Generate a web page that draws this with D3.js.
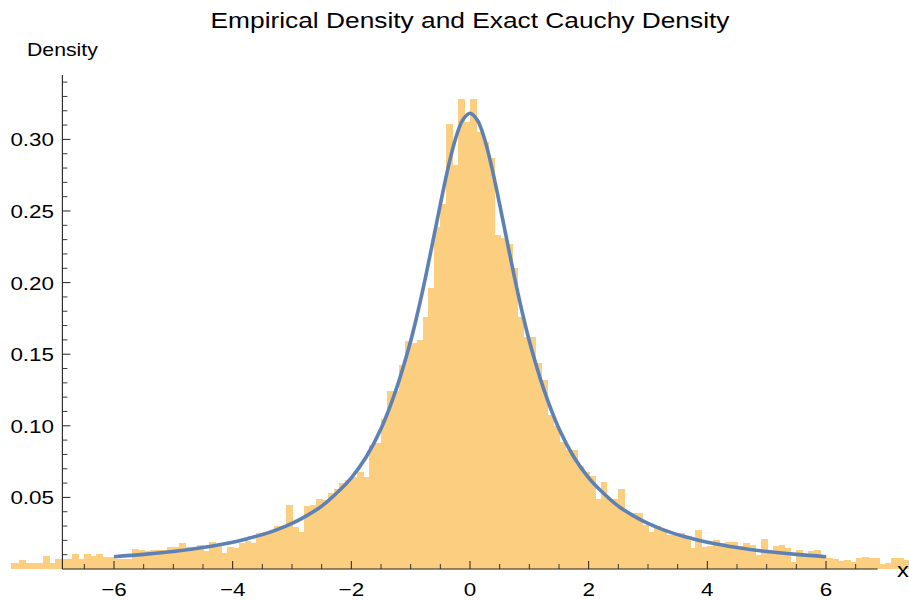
<!DOCTYPE html>
<html><head><meta charset="utf-8">
<script src="https://cdn.jsdelivr.net/npm/d3@7"></script>
<style>body{margin:0;background:#fff} svg{display:block}</style>
</head><body>
<svg id="chart" width="909" height="601"></svg>
<script>
// ---- data ----
const title = "Empirical Density and Exact Cauchy Density";
const yLabel = "Density";
const xLabel = "x";
const binStart = -7.8;
const binWidth = 0.1;
const densities = [
  0.0044,0.0044,0.0063,0.0044,0.0044,0.0040,0.0091,0.0040,0.0070,0.0070,
  0.0070,0.0105,0.0070,0.0105,0.0090,0.0105,0.0086,0.0086,0.0070,0.0068,
  0.0070,0.0140,0.0130,0.0126,0.0135,0.0133,0.0133,0.0151,0.0151,0.0180,
  0.0156,0.0156,0.0170,0.0126,0.0186,0.0165,0.0114,0.0156,0.0144,0.0180,
  0.0198,0.0184,0.0254,0.0260,0.0260,0.0300,0.0290,0.0447,0.0290,0.0260,
  0.0440,0.0447,0.0490,0.0480,0.0530,0.0560,0.0600,0.0620,0.0640,0.0680,
  0.0640,0.0866,0.0880,0.1050,0.1240,0.1240,0.1425,0.1590,0.1580,0.1600,
  0.1760,0.1960,0.2390,0.2550,0.3110,0.2820,0.3280,0.3120,
  0.3280,0.3050,0.2980,0.2870,0.2330,0.2310,0.2270,0.2100,0.1760,0.1620,
  0.1620,0.1440,0.1320,0.1075,0.1000,0.0890,0.0830,0.0830,0.0720,0.0680,
  0.0650,0.0490,0.0610,0.0490,0.0490,0.0560,0.0390,0.0390,0.0390,0.0310,
  0.0260,0.0300,0.0280,0.0237,0.0237,0.0250,0.0226,0.0150,0.0272,0.0156,
  0.0160,0.0200,0.0185,0.0190,0.0190,0.0160,0.0180,0.0170,0.0100,0.0210,
  0.0130,0.0160,0.0168,0.0150,0.0050,0.0133,0.0105,0.0126,0.0133,0.0090,
  0.0074,0.0070,0.0056,0.0065,0.0051,0.0075,0.0086,0.0080,0.0074,0.0035,
  0.0040,0.0075,0.0080,0.0065,0.0060
];
const curveX = [-6,-5.5,-5,-4.5,-4,-3.75,-3.5,-3.25,-3,-2.75,-2.5,-2.25,-2,-1.75,-1.5,-1.25,-1,-0.875,-0.75,-0.625,-0.5,-0.375,-0.25,-0.125,0,
                0.125,0.25,0.375,0.5,0.625,0.75,0.875,1,1.25,1.5,1.75,2,2.25,2.5,2.75,3,3.25,3.5,3.75,4,4.5,5,5.5,6];
const curveY = [0.0086,0.0102,0.0122,0.0150,0.0187,0.0212,0.0240,0.0275,0.0318,0.0373,0.0439,0.0529,0.0637,0.0782,0.0979,0.1247,0.1592,0.1803,0.2037,0.2289,0.2546,0.2791,0.2996,0.3134,0.3183,
                0.3134,0.2996,0.2791,0.2546,0.2289,0.2037,0.1803,0.1592,0.1247,0.0979,0.0782,0.0637,0.0529,0.0439,0.0373,0.0318,0.0275,0.0240,0.0212,0.0187,0.0150,0.0122,0.0102,0.0086];
const xMajorTicks = [-6,-4,-2,0,2,4,6];
const xTickLabels = ["\u22126","\u22124","\u22122","0","2","4","6"];
const yMajorTicks = [0.05,0.10,0.15,0.20,0.25,0.30];
const yTickLabels = ["0.05","0.10","0.15","0.20","0.25","0.30"];
const xAxisExtent = [-6.87, 6.87];
const yAxisExtent = [0, 0.345];

// ---- layout ----
const svg = d3.select("#chart");
const W = 909, H = 601;
const x = d3.scaleLinear().domain([-6, 6]).range([114, 826]);
const y = d3.scaleLinear().domain([0, 0.3]).range([569, 139.4]);
const FONT = "'Liberation Sans', Arial, Helvetica, sans-serif";
const SX = 1.18;

svg.append("defs").append("clipPath").attr("id","plotclip")
  .append("rect").attr("x", 11).attr("y", 0).attr("width", W - 11).attr("height", H);

const bins = densities.map((d, i) => ({x0: binStart + i * binWidth, x1: binStart + (i + 1) * binWidth, d}));

svg.append("g").attr("clip-path","url(#plotclip)")
  .selectAll("rect").data(bins).join("rect")
  .attr("x", b => x(b.x0))
  .attr("width", b => x(b.x1) - x(b.x0) + 1)
  .attr("y", b => y(b.d))
  .attr("height", b => y(0) - y(b.d))
  .attr("shape-rendering", "crispEdges")
  .attr("fill", "rgb(252,206,128)");

const pts = curveX.map((v, i) => [v, curveY[i]]);
svg.append("path").datum(pts)
  .attr("d", d3.line().x(p => x(p[0])).y(p => y(p[1])).curve(d3.curveCatmullRom.alpha(0.5)))
  .attr("fill","none").attr("stroke","#5E81B5").attr("stroke-width",3.6)
  .attr("stroke-linejoin","round");

// axes
const axisColor = "#222";
const ax = svg.append("g");
const x0px = x(xAxisExtent[0]);
ax.append("line").attr("x1", x(xAxisExtent[0])).attr("x2", x(xAxisExtent[1]))
  .attr("y1", y(0)).attr("y2", y(0)).attr("stroke", axisColor).attr("stroke-width", 1.1);
ax.append("line").attr("x1", x0px).attr("x2", x0px)
  .attr("y1", y(yAxisExtent[0])).attr("y2", y(yAxisExtent[1])).attr("stroke", axisColor).attr("stroke-width", 1.1);

// x ticks
const xMinor = d3.range(-13, 14).map(k => k * 0.5).filter(v => v >= xAxisExtent[0] && v <= xAxisExtent[1] && !xMajorTicks.includes(v));
ax.selectAll(".xmin").data(xMinor).join("line")
  .attr("x1", d => x(d)).attr("x2", d => x(d)).attr("y1", y(0)).attr("y2", y(0) - 5)
  .attr("stroke", axisColor).attr("stroke-width", 0.9);
ax.selectAll(".xmaj").data(xMajorTicks).join("line")
  .attr("x1", d => x(d)).attr("x2", d => x(d)).attr("y1", y(0)).attr("y2", y(0) - 8)
  .attr("stroke", axisColor).attr("stroke-width", 1);

// y ticks
const yMinor = d3.range(1, 35).map(k => k / 100).filter(v => !yMajorTicks.some(m => Math.abs(m - v) < 1e-9));
ax.selectAll(".ymin").data(yMinor).join("line")
  .attr("x1", x0px).attr("x2", x0px + 5).attr("y1", d => y(d)).attr("y2", d => y(d))
  .attr("stroke", axisColor).attr("stroke-width", 0.9);
ax.selectAll(".ymaj").data(yMajorTicks).join("line")
  .attr("x1", x0px).attr("x2", x0px + 8).attr("y1", d => y(d)).attr("y2", d => y(d))
  .attr("stroke", axisColor).attr("stroke-width", 1);

function addText(px, py, str, size, anchor, sx = SX) {
  const g = svg.append("g").attr("transform", `translate(${px},${py}) scale(${sx},1)`);
  g.append("text").attr("x", 0).attr("y", 0).attr("text-anchor", anchor)
    .attr("font-family", FONT).attr("font-size", size)
    .attr("fill", "#000").text(str);
}

xMajorTicks.forEach((v, i) => addText(x(v), 596, xTickLabels[i], 19, "middle"));
yMajorTicks.forEach((v, i) => addText(54, y(v) + 7, yTickLabels[i], 19, "end"));

addText(470, 28, title, 22.3, "middle");
addText(x0px, 56, yLabel, 18, "middle");
addText(897, 577, xLabel, 20, "start");
</script>
</body></html>
